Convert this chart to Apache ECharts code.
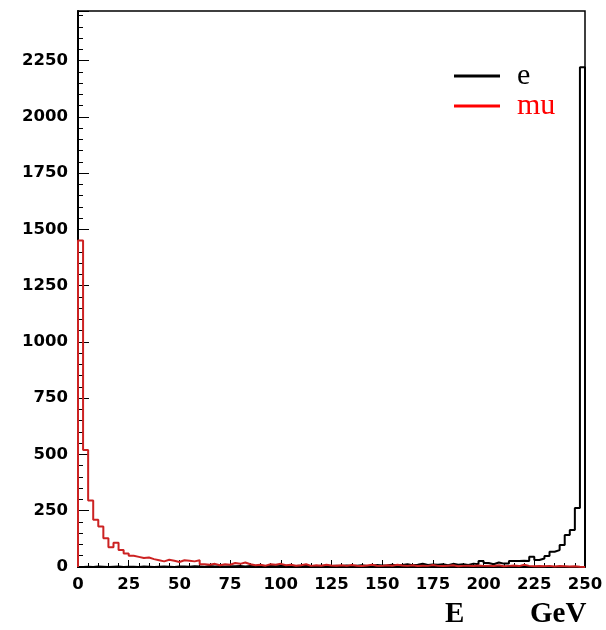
<!DOCTYPE html>
<html>
<head>
<meta charset="utf-8">
<script src="https://cdn.jsdelivr.net/npm/echarts@6/dist/echarts.min.js"></script>
<style>html,body{margin:0;padding:0;background:#fff}#c{width:606px;height:630px}</style>
</head>
<body>
<div id="c"></div>
<script>
// Histogram: 100 bins of 2.5 GeV from 0 to 250
const binWidth = 2.5;
const nBins = 100;
const yTicks = [0, 250, 500, 750, 1000, 1250, 1500, 1750, 2000, 2250];
const xTicks = [0, 25, 50, 75, 100, 125, 150, 175, 200, 225, 250];
const seriesNames = ['e', 'mu'];

const eCounts = [
  0,1,0,2,1,0,1,2,0,1,
  1,0,2,1,0,1,2,1,0,2,
  2,1,3,2,1,4,2,3,2,3,
  3,4,2,5,3,4,2,5,3,4,
  4,3,5,6,4,5,3,6,5,4,
  6,5,7,4,6,8,5,6,9,7,
  8,10,7,9,12,8,10,14,9,11,
  10,12,8,14,10,12,9,15,12,27,
  18,12,20,15,16,27,27,28,27,46,
  31,38,49,68,75,98,142,164,262,2220
];
const muCounts = [
  1450,520,295,210,180,128,88,108,75,60,
  50,45,40,42,35,30,25,32,28,22,
  30,28,25,30,12,10,14,8,12,10,
  18,14,20,12,8,10,6,12,10,14,
  8,10,6,8,12,5,8,6,10,7,
  6,8,5,9,6,4,7,10,6,5,
  8,6,10,7,5,8,4,6,5,9,
  5,4,6,8,3,5,6,4,7,5,
  6,4,8,3,5,7,4,10,5,3,
  4,3,5,2,4,3,2,3,1,0
];

function histPoints(counts) {
  const pts = [[0, 0]];
  for (let i = 0; i < counts.length; i++) pts.push([i * binWidth, counts[i]]);
  const last = counts.length * binWidth;
  pts.push([last, counts[counts.length - 1]]);
  pts.push([last, 0]);
  return pts;
}

const chart = echarts.init(document.getElementById('c'), null, {renderer: 'canvas'});
const labelFont = {fontFamily: 'DejaVu Sans', fontWeight: 'bold', fontSize: 16.5, color: '#000'};
chart.setOption({
  animation: false,
  backgroundColor: '#fff',
  grid: {left: 78, right: 21, top: 11, bottom: 63, show: true, borderColor: '#000', borderWidth: 1.5, containLabel: false},
  legend: {
    orient: 'vertical', left: 449, top: 56, itemWidth: 46, itemHeight: 3, itemGap: 0, icon: 'rect',
    data: [
      {name: seriesNames[0], textStyle: {color: '#000'}},
      {name: seriesNames[1], textStyle: {color: '#ff0000'}}
    ],
    textStyle: {fontFamily: 'Liberation Serif', fontSize: 30, lineHeight: 29, padding: [0, 0, 0, 12]}
  },
  xAxis: {
    type: 'value', min: 0, max: 250, interval: 25,
    axisLine: {lineStyle: {color: '#000', width: 2}},
    axisTick: {inside: true, length: 7, lineStyle: {color: '#000', width: 1}},
    minorTick: {show: true, splitNumber: 5, length: 4, lineStyle: {color: '#000'}},
    splitLine: {show: false},
    axisLabel: Object.assign({margin: 9, formatter: v => xTicks.includes(v) ? String(v) : ''}, labelFont)
  },
  yAxis: {
    type: 'value', min: 0, max: 2470, interval: 250,
    axisLine: {show: true, lineStyle: {color: '#000', width: 2}},
    axisTick: {show: true, inside: true, length: 11, lineStyle: {color: '#000', width: 1}},
    minorTick: {show: true, splitNumber: 5, length: 5, lineStyle: {color: '#000'}},
    splitLine: {show: false},
    axisLabel: Object.assign({margin: 10, showMaxLabel: false, formatter: v => yTicks.includes(v) ? String(v) : ''}, labelFont)
  },
  graphic: [
    {type: 'text', left: 445, top: 600, style: {text: 'E', font: 'bold 29px "Liberation Serif"', fill: '#000'}},
    {type: 'text', left: 530, top: 600, style: {text: 'GeV', font: 'bold 29px "Liberation Serif"', fill: '#000'}}
  ],
  series: [
    {name: seriesNames[0], type: 'line', step: 'end', showSymbol: false, symbol: 'none',
     data: histPoints(eCounts), itemStyle: {color: '#000'}, lineStyle: {color: '#000', width: 2}},
    {name: seriesNames[1], type: 'line', step: 'end', showSymbol: false, symbol: 'none',
     data: histPoints(muCounts), itemStyle: {color: '#ff0000'}, lineStyle: {color: '#cc2222', width: 2}}
  ]
});
</script>
</body>
</html>
